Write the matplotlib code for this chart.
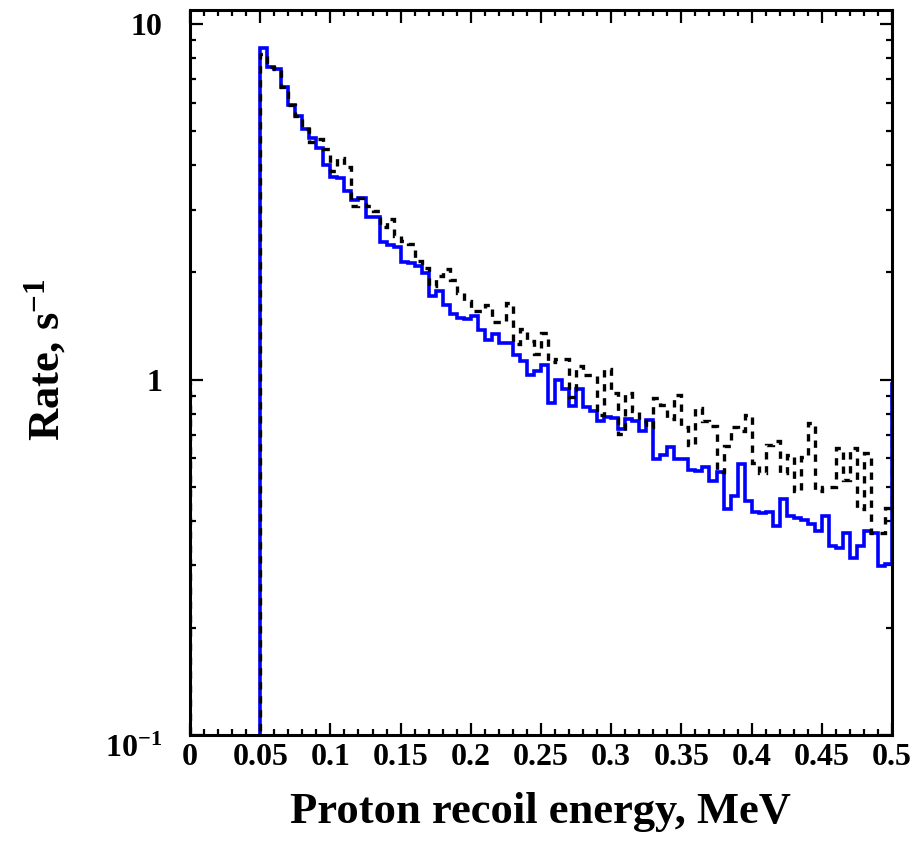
import numpy as np
import matplotlib
matplotlib.use('Agg')
from matplotlib import pyplot as plt
from matplotlib.ticker import FixedLocator, FixedFormatter, LogLocator, NullFormatter, MultipleLocator

### DATA
# proton recoil energy bins, MeV (0.005 MeV wide, 0 .. 0.5)
bin_width = 0.005
bin_edges = np.round(np.arange(0, 0.5 + bin_width / 2, bin_width), 4)

# rates in s^-1 per bin starting at 0.05 MeV (bins below 0.05 are empty)
n_empty = 10
rate_blue = [
    8.57, 7.57, 7.45, 6.63, 5.90, 5.51, 5.07, 4.78, 4.48, 4.00,
    3.71, 3.68, 3.39, 3.19, 3.23, 2.86, 2.86, 2.44, 2.39, 2.36,
    2.14, 2.12, 2.08, 1.99, 1.72, 1.77, 1.62, 1.53, 1.49, 1.48,
    1.51, 1.38, 1.29, 1.34, 1.27, 1.27, 1.17, 1.13, 1.03, 1.06,
    1.10, 0.860, 0.994, 0.942, 0.841, 0.942, 0.838, 0.814, 0.764, 0.785,
    0.778, 0.727, 0.772, 0.762, 0.715, 0.767, 0.599, 0.615, 0.645, 0.599,
    0.599, 0.556, 0.553, 0.569, 0.518, 0.550, 0.431, 0.469, 0.578, 0.454,
    0.423, 0.421, 0.425, 0.387, 0.460, 0.412, 0.408, 0.403, 0.391, 0.375,
    0.413, 0.340, 0.336, 0.370, 0.315, 0.340, 0.376, 0.370, 0.298, 0.302,
]
rate_black = [
    8.21, 7.57, 7.45, 6.63, 5.90, 5.51, 5.07, 4.65, 4.76, 4.44,
    3.85, 4.20, 3.95, 3.07, 3.24, 3.07, 2.97, 2.68, 2.82, 2.53,
    2.45, 2.40, 2.15, 2.06, 1.83, 1.95, 2.04, 1.90, 1.75, 1.66,
    1.56, 1.56, 1.62, 1.45, 1.45, 1.64, 1.26, 1.39, 1.28, 1.18,
    1.35, 1.12, 1.14, 1.14, 0.894, 1.09, 1.03, 1.03, 0.797, 1.07,
    0.917, 0.703, 0.917, 0.814, 0.763, 0.733, 0.888, 0.847, 0.772, 0.907,
    0.736, 0.656, 0.833, 0.763, 0.739, 0.548, 0.649, 0.736, 0.715, 0.797,
    0.583, 0.546, 0.656, 0.671, 0.546, 0.615, 0.487, 0.606, 0.756, 0.487,
    0.499, 0.499, 0.642, 0.523, 0.642, 0.431, 0.622, 0.370, 0.370, 0.436,
]
# under/overflow levels seen at the frame edges
rate_under = 0.97
rate_over = 0.97

x_ticks = [0, 0.05, 0.1, 0.15, 0.2, 0.25, 0.3, 0.35, 0.4, 0.45, 0.5]
x_tick_labels = ['0', '0.05', '0.1', '0.15', '0.2', '0.25', '0.3', '0.35', '0.4', '0.45', '0.5']
y_ticks = [0.1, 1, 10]
y_tick_labels = [r'$10^{\mathsf{-}1}$', '1', '10']

### STYLE
plt.rcParams['font.family'] = 'Liberation Serif'
plt.rcParams['font.weight'] = 'bold'
plt.rcParams['mathtext.fontset'] = 'custom'
plt.rcParams['mathtext.rm'] = 'Liberation Serif:bold'
plt.rcParams['mathtext.bf'] = 'Liberation Serif:bold'
plt.rcParams['mathtext.it'] = 'Liberation Serif:bold'
plt.rcParams['mathtext.sf'] = 'Liberation Serif:bold'

### FIGURE
fig = plt.figure(figsize=(9.15, 8.42), dpi=100)
ax = fig.add_axes([190 / 915, 1 - 735 / 842, (892 - 190) / 915, (735 - 10) / 842])

edges = np.concatenate([[-bin_width], bin_edges, [0.5 + bin_width]])
def full(rates):
    return np.concatenate([[rate_under], np.zeros(n_empty), rates, [rate_over]])

ax.stairs(full(rate_blue), edges, baseline=None, color='#0000ff', lw=2.6, zorder=3)
ax.stairs(full(rate_black), edges, baseline=None, color='k', lw=2.4,
          linestyle=(0, (2.2, 2.0)), zorder=4)

ax.set_yscale('log')
ax.set_xlim(0, 0.5)
ax.set_ylim(0.1, 10.95)

ax.xaxis.set_major_locator(FixedLocator(x_ticks))
ax.xaxis.set_major_formatter(FixedFormatter(x_tick_labels))
ax.xaxis.set_minor_locator(MultipleLocator(0.01))
ax.yaxis.set_major_locator(FixedLocator(y_ticks))
ax.yaxis.set_major_formatter(FixedFormatter(y_tick_labels))
ax.yaxis.set_minor_locator(LogLocator(base=10, subs=np.arange(2, 10)))
ax.yaxis.set_minor_formatter(NullFormatter())

ax.tick_params(which='both', direction='in', top=True, right=True, width=1.6)
ax.tick_params(which='major', length=9)
ax.tick_params(which='minor', length=4.5)
ax.tick_params(axis='x', which='major', labelsize=23, pad=6)
ax.tick_params(axis='y', which='major', labelsize=23, pad=20)
for s in ax.spines.values():
    s.set_linewidth(2.2)
    s.set_zorder(5)

# the 10^-1 label sits a little below its tick, as in the original
fig.canvas.draw()
ax.get_yticklabels()[0].set_verticalalignment('top')

fig.text(540 / 915, 1 - 812 / 842, 'Proton recoil energy, MeV', fontsize=32,
         fontweight='bold', ha='center', va='center')
fig.text(45 / 915, 1 - 360 / 842, r'Rate, s$^{\mathsf{-}1}$', fontsize=32,
         fontweight='bold', ha='center', va='center', rotation=90)

fig.savefig('out.png', dpi=100)
